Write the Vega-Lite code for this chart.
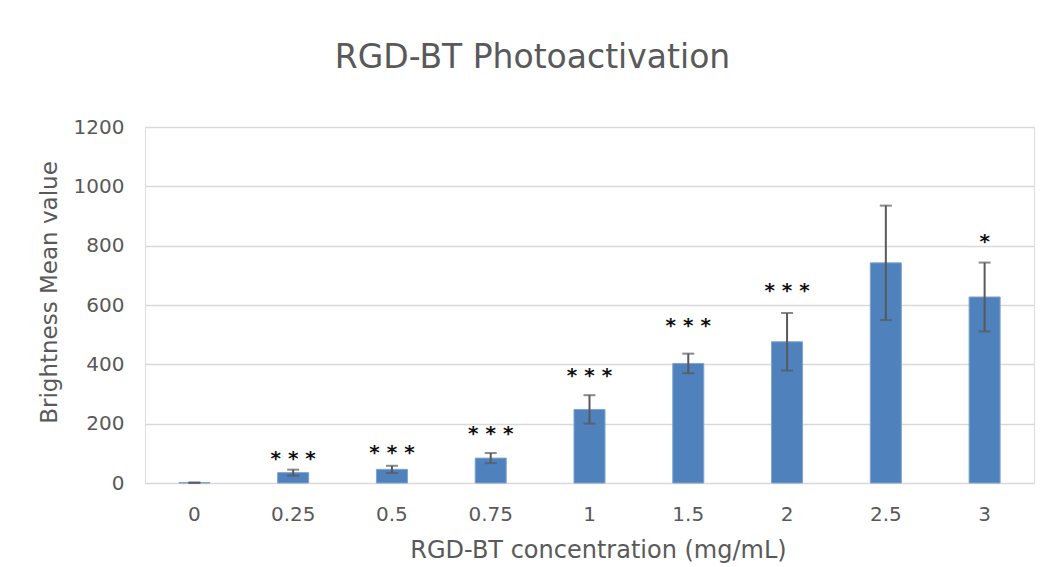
{
  "$schema": "https://vega.github.io/schema/vega-lite/v6.json",
  "autosize": {"type": "none"},
  "width": 889,
  "height": 356,
  "padding": {"left": 145, "top": 127, "right": 14, "bottom": 84},
  "background": "white",
  "title": {
    "text": "RGD-BT Photoactivation",
    "fontSize": 33,
    "font": "DejaVu Sans",
    "fontWeight": "normal",
    "color": "#595959",
    "anchor": "middle",
    "dx": -57,
    "dy": 32,
    "baseline": "alphabetic",
    "offset": 48
  },
  "data": {
    "values": [
      {"conc": "0", "mean": 1, "err": 1, "stars": "", "starY": null},
      {"conc": "0.25", "mean": 35, "err": 10, "stars": "* * *", "starY": 95},
      {"conc": "0.5", "mean": 46, "err": 12, "stars": "* * *", "starY": 113},
      {"conc": "0.75", "mean": 84, "err": 17, "stars": "* * *", "starY": 178},
      {"conc": "1", "mean": 248, "err": 48, "stars": "* * *", "starY": 373},
      {"conc": "1.5", "mean": 403, "err": 33, "stars": "* * *", "starY": 543},
      {"conc": "2", "mean": 476, "err": 97, "stars": "* * *", "starY": 659},
      {"conc": "2.5", "mean": 742, "err": 193, "stars": "", "starY": null},
      {"conc": "3", "mean": 627, "err": 116, "stars": "*", "starY": 826}
    ]
  },
  "transform": [
    {"calculate": "datum.mean - datum.err", "as": "lo"},
    {"calculate": "datum.mean + datum.err", "as": "hi"}
  ],
  "encoding": {
    "x": {
      "field": "conc",
      "type": "nominal",
      "sort": null,
      "scale": {"paddingInner": 0.686, "paddingOuter": 0.343},
      "axis": {
        "title": "RGD-BT concentration (mg/mL)",
        "labelAngle": 0,
        "labelFontSize": 20,
        "labelFont": "DejaVu Sans",
        "labelColor": "#595959",
        "labelPadding": 21,
        "labelBaseline": "top",
        "ticks": false,
        "domain": false,
        "titleFontSize": 24,
        "titleFont": "DejaVu Sans",
        "titleFontWeight": "normal",
        "titleColor": "#595959",
        "titleY": 67,
        "titleX": 453,
        "titleBaseline": "middle"
      }
    }
  },
  "layer": [
    {
      "mark": {"type": "bar", "color": "#4F81BD", "stroke": "#7FA3D0", "strokeWidth": 1},
      "encoding": {
        "y": {
          "field": "mean",
          "type": "quantitative",
          "scale": {"domain": [0, 1200]},
          "axis": {
            "title": "Brightness Mean value",
            "values": [0, 200, 400, 600, 800, 1000, 1200],
            "format": "d",
            "labelFontSize": 20,
            "labelFont": "DejaVu Sans",
            "labelColor": "#595959",
            "labelPadding": 21,
            "ticks": false,
            "domain": false,
            "grid": true,
            "gridColor": "#D9D9D9",
            "gridWidth": 1.5,
            "titleFontSize": 23,
            "titleFont": "DejaVu Sans",
            "titleFontWeight": "normal",
            "titleColor": "#595959",
            "titleX": -96,
            "titleY": 165,
            "titleAngle": -90,
            "titleAlign": "center",
            "titleBaseline": "middle"
          }
        }
      }
    },
    {
      "mark": {"type": "rule", "color": "#595959", "strokeWidth": 2},
      "encoding": {
        "y": {"field": "lo", "type": "quantitative"},
        "y2": {"field": "hi"}
      }
    },
    {
      "mark": {"type": "tick", "color": "#595959", "thickness": 2, "size": 12},
      "encoding": {"y": {"field": "lo", "type": "quantitative"}}
    },
    {
      "mark": {"type": "tick", "color": "#595959", "thickness": 2, "size": 12},
      "encoding": {"y": {"field": "hi", "type": "quantitative"}}
    },
    {
      "transform": [{"filter": "datum.starY != null"}],
      "mark": {"type": "text", "font": "DejaVu Sans", "fontSize": 20, "fontWeight": "bold", "color": "#111111", "baseline": "alphabetic", "dy": 10},
      "encoding": {
        "y": {"field": "starY", "type": "quantitative"},
        "text": {"field": "stars"}
      }
    }
  ]
}
